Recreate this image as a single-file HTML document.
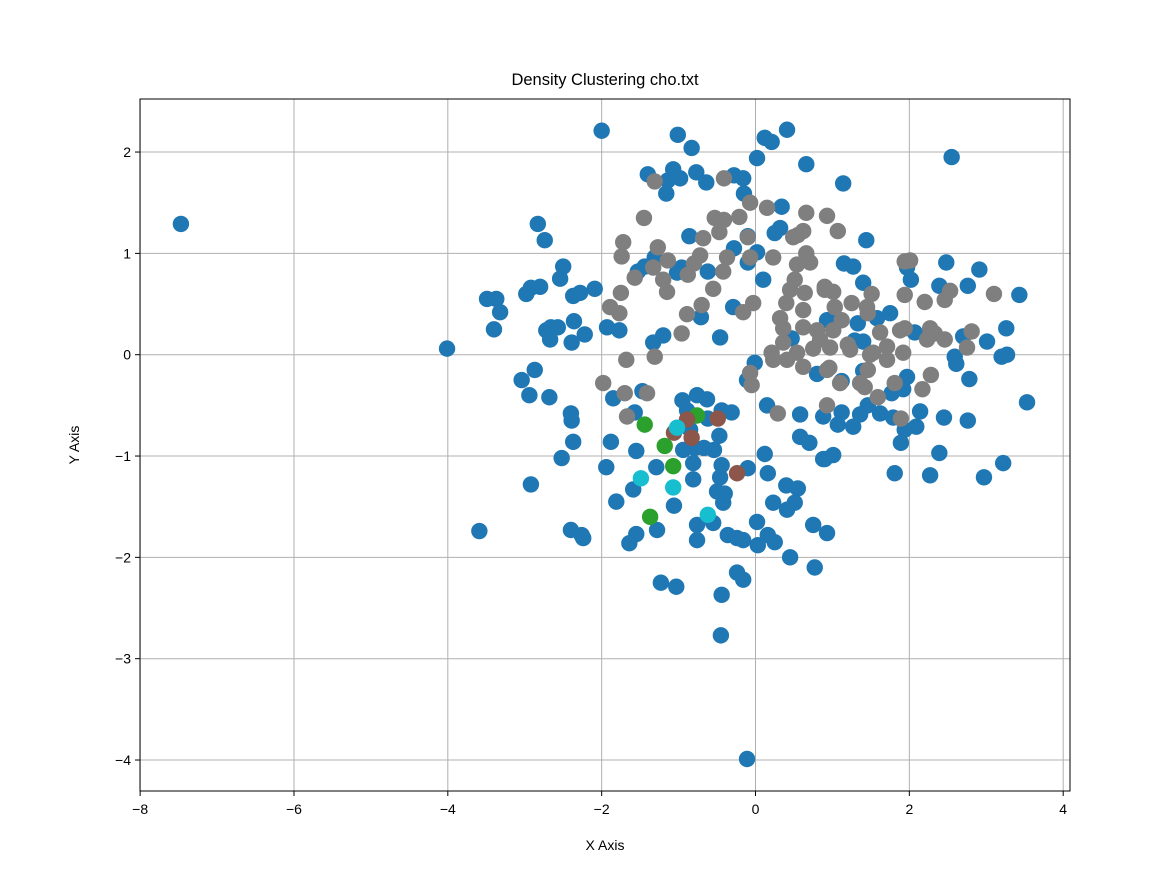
<!DOCTYPE html>
<html><head><meta charset="utf-8"><style>
body{margin:0;background:#fff;}
svg{display:block;font-family:"Liberation Sans","DejaVu Sans",sans-serif;}
</style></head><body>
<svg id="chart" width="1150" height="877" xmlns="http://www.w3.org/2000/svg">
<rect width="1150" height="877" fill="#fff"/>
<text x="605" y="85" font-size="16.5" text-anchor="middle">Density Clustering cho.txt</text>
<g id="grid"></g>
<g id="pts"></g>
<rect x="140" y="99" width="930" height="692" fill="none" stroke="#000" stroke-width="1"/>
<g id="ticks"></g>
<text x="605" y="850" font-size="14" text-anchor="middle">X Axis</text>
<text x="79" y="445" font-size="14" text-anchor="middle" transform="rotate(-90 79 445)">Y Axis</text>
</svg>
<script>
const xTicks=[-8,-6,-4,-2,0,2,4];
const yTicks=[-4,-3,-2,-1,0,1,2];
const blueX=[-7.47,-4.01,-3.59,-3.49,-3.37,-3.40,-3.32,-3.04,-2.94,-2.87,-2.92,-2.68,-2.83,-2.74,-2.80,-2.92,-2.98,-2.72,-2.66,-2.57,-2.67,-2.52,-2.54,-2.50,-2.37,-2.28,-2.40,-2.39,-2.37,-2.36,-2.39,-2.40,-2.26,-2.24,-2.22,-2.09,-2.00,-1.94,-1.85,-1.47,-1.57,-0.95,-0.76,-0.63,-0.89,-0.62,-0.44,-0.31,0.15,0.58,0.88,-0.85,-0.47,-1.88,-1.55,-0.94,-0.79,-0.67,-0.54,-0.81,-0.44,-0.10,-1.29,-0.46,0.16,0.58,0.70,0.12,0.88,-0.81,-1.59,-0.50,-0.40,-0.42,0.40,0.55,0.23,0.51,0.41,-1.81,-1.06,-0.76,-0.55,0.02,0.75,0.93,-1.28,-1.55,-1.64,-0.36,-0.24,-0.16,0.03,0.16,0.25,-0.76,0.45,0.77,-0.24,-0.16,-1.23,-1.03,-0.44,-0.45,-0.11,-0.01,-0.11,0.80,2.59,2.61,3.20,3.27,2.78,3.53,1.12,1.40,1.97,1.77,1.92,1.12,1.07,1.27,1.36,1.46,1.62,1.79,2.14,2.09,1.94,1.89,2.45,2.76,0.90,1.01,2.39,3.22,1.81,2.27,2.97,-1.01,-0.83,0.02,0.12,0.21,0.41,0.66,-1.40,-1.07,-0.98,-1.14,-1.16,-0.77,-0.64,-0.28,-0.16,-0.15,0.34,0.32,0.25,-0.86,-0.28,-0.10,0.02,-0.10,-1.31,-1.53,-1.44,-0.96,-1.02,-0.62,0.10,-1.93,-1.77,-0.71,-0.29,-1.33,-1.20,-0.46,0.47,0.93,2.55,1.14,1.44,1.15,1.27,2.48,2.91,1.40,1.97,2.02,2.39,2.76,3.43,0.96,1.33,1.58,1.75,1.29,1.40,2.07,2.70,3.01,3.26];
const blueY=[1.29,0.06,-1.74,0.55,0.55,0.25,0.42,-0.25,-0.40,-0.15,-1.28,-0.42,1.29,1.13,0.67,0.66,0.60,0.24,0.27,0.27,0.15,-1.02,0.75,0.87,0.58,0.61,-0.58,-0.65,-0.86,0.33,0.12,-1.73,-1.78,-1.81,0.20,0.65,2.21,-1.11,-0.43,-0.36,-0.57,-0.45,-0.40,-0.44,-0.55,-0.63,-0.55,-0.57,-0.50,-0.59,-0.61,-0.74,-0.80,-0.86,-0.95,-0.94,-0.92,-0.92,-0.94,-1.07,-1.09,-1.12,-1.11,-1.21,-1.17,-0.81,-0.87,-0.98,-1.03,-1.23,-1.33,-1.35,-1.37,-1.46,-1.29,-1.32,-1.46,-1.46,-1.53,-1.45,-1.49,-1.68,-1.66,-1.65,-1.68,-1.76,-1.73,-1.77,-1.86,-1.78,-1.81,-1.83,-1.88,-1.78,-1.85,-1.83,-2.00,-2.10,-2.15,-2.22,-2.25,-2.29,-2.37,-2.77,-3.99,-0.08,-0.25,-0.19,-0.02,-0.09,-0.02,0.00,-0.24,-0.47,-0.26,-0.16,-0.22,-0.38,-0.34,-0.57,-0.69,-0.71,-0.59,-0.50,-0.58,-0.62,-0.56,-0.71,-0.74,-0.87,-0.62,-0.65,-1.03,-0.99,-0.97,-1.07,-1.17,-1.19,-1.21,2.17,2.04,1.94,2.14,2.10,2.22,1.88,1.78,1.83,1.74,1.72,1.59,1.80,1.70,1.77,1.74,1.59,1.46,1.25,1.20,1.17,1.05,1.17,1.01,0.91,0.96,0.82,0.87,0.86,0.81,0.82,0.74,0.27,0.24,0.37,0.47,0.12,0.19,0.17,0.16,0.34,1.95,1.69,1.13,0.90,0.87,0.91,0.84,0.71,0.86,0.74,0.68,0.68,0.59,0.34,0.31,0.36,0.41,0.14,0.13,0.22,0.18,0.13,0.26];
const grayX=[-1.31,-0.41,-1.45,-0.07,0.15,0.66,0.93,-0.53,-0.41,-0.21,-0.47,-0.68,-0.10,0.55,0.62,0.49,-1.72,-1.74,-1.27,-1.14,-0.72,-0.37,-0.07,0.23,0.66,0.71,0.54,-1.33,-0.80,-0.88,-0.42,-1.57,-1.20,-1.15,-0.55,-1.75,0.51,0.45,0.64,0.90,-1.89,-1.77,-0.89,-0.70,-0.16,-0.03,0.40,0.62,0.32,0.36,0.62,0.80,-0.96,0.84,0.36,0.21,-1.68,-1.31,0.54,0.75,1.07,1.94,2.01,0.90,1.01,1.51,1.94,2.20,2.46,2.53,3.10,1.03,1.25,1.45,1.12,1.46,1.01,1.62,1.88,1.94,2.27,2.33,2.46,2.23,2.81,2.75,0.97,1.53,1.71,1.92,1.20,-1.98,-1.70,-1.41,-1.67,-0.07,-0.05,0.23,0.41,0.62,0.93,0.93,0.29,1.23,1.49,1.71,0.96,1.10,1.36,1.46,1.42,1.59,1.81,2.17,2.28,1.89];
const grayY=[1.71,1.74,1.35,1.50,1.45,1.40,1.37,1.35,1.33,1.36,1.21,1.15,1.16,1.18,1.22,1.16,1.11,0.97,1.06,0.93,0.98,0.96,0.96,0.96,1.00,0.91,0.89,0.86,0.90,0.79,0.82,0.76,0.74,0.62,0.65,0.61,0.74,0.64,0.61,0.64,0.47,0.41,0.40,0.49,0.42,0.51,0.51,0.44,0.36,0.26,0.27,0.24,0.21,0.15,0.12,0.02,-0.05,-0.02,0.02,0.06,1.22,0.92,0.93,0.67,0.62,0.60,0.59,0.52,0.54,0.63,0.60,0.47,0.51,0.47,0.34,0.41,0.24,0.22,0.24,0.26,0.26,0.21,0.15,0.15,0.23,0.07,0.07,0.02,0.08,0.02,0.10,-0.28,-0.38,-0.38,-0.61,-0.18,-0.30,-0.05,-0.05,-0.12,-0.15,-0.50,-0.58,0.05,0.00,-0.05,-0.13,-0.28,-0.28,-0.15,-0.32,-0.42,-0.28,-0.34,-0.20,-0.63];
const greenX=[-1.44,-1.18,-1.07,-1.37,-0.76];
const greenY=[-0.69,-0.90,-1.10,-1.60,-0.60];
const brownX=[-0.49,-0.89,-1.06,-0.83,-0.24];
const brownY=[-0.63,-0.64,-0.77,-0.82,-1.17];
const cyanX=[-1.02,-1.49,-1.07,-0.62];
const cyanY=[-0.72,-1.22,-1.31,-1.58];

const NS="http://www.w3.org/2000/svg";
const sx=v=>755.5+v*76.92;
const sy=v=>354.7-v*101.33;
const grid=document.getElementById('grid'),ticks=document.getElementById('ticks'),pts=document.getElementById('pts');
function mk(tag,attrs,parent){const e=document.createElementNS(NS,tag);for(const k in attrs)e.setAttribute(k,attrs[k]);parent.appendChild(e);return e;}
xTicks.forEach(t=>{
  const x=sx(t);
  const g=mk('line',{x1:x,x2:x,y1:99,y2:791,stroke:'#b0b0b0','stroke-width':1},grid);
  
  
  const tk=mk('line',{x1:x,x2:x,y1:791,y2:796,stroke:'#000'},ticks);
  
  
  const tx=mk('text',{x:x,y:814,'font-size':14,'text-anchor':'middle'},ticks);
  tx.textContent=(t<0?'\u2212'+(-t):t);
  
  
});
yTicks.forEach(t=>{
  const y=sy(t);
  const g=mk('line',{x1:140,x2:1070,y1:y,y2:y,stroke:'#b0b0b0','stroke-width':1},grid);
  
  
  const tk=mk('line',{x1:135,x2:140,y1:y,y2:y,stroke:'#000'},ticks);
  
  
  const tx=mk('text',{x:131,y:y+5,'font-size':14,'text-anchor':'end'},ticks);
  tx.textContent=(t<0?'\u2212'+(-t):t);
  
  
});
function series(xs,ys,color,name){
  for(let i=0;i<xs.length;i++){
    const c=mk('circle',{cx:sx(xs[i]),cy:sy(ys[i]),r:8.2,fill:color},pts);
    
    
  }
}
series(blueX,blueY,'#1f77b4','cluster-blue-point');
series(grayX,grayY,'#7f7f7f','cluster-gray-point');
series(greenX,greenY,'#2ca02c','cluster-green-point');
series(brownX,brownY,'#8c564b','cluster-brown-point');
series(cyanX,cyanY,'#17becf','cluster-cyan-point');
</script>
</body></html>
